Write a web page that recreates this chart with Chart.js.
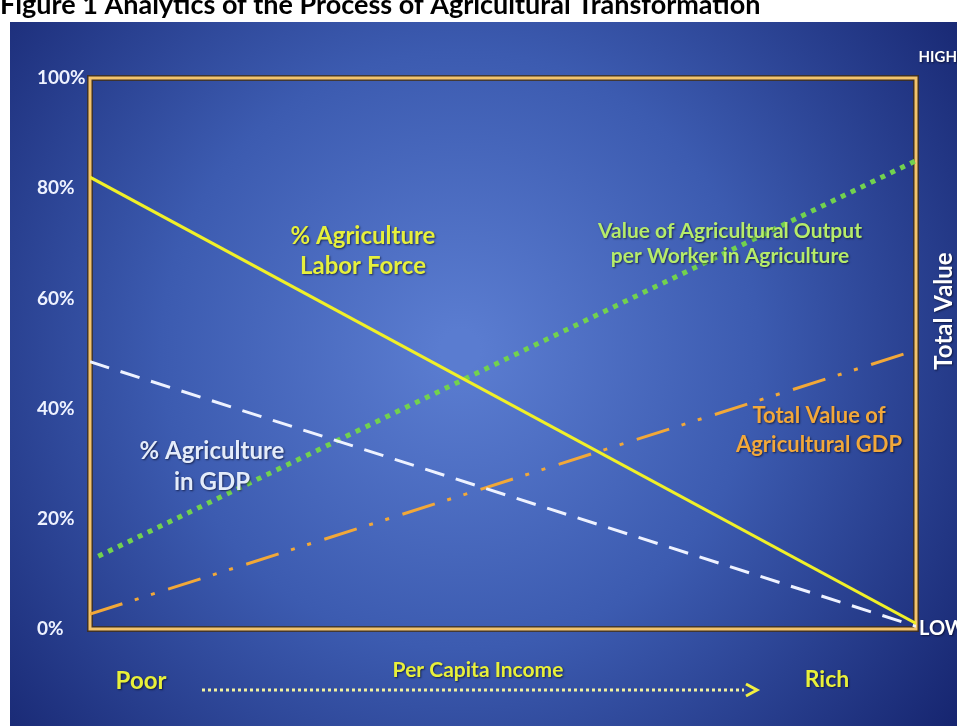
<!DOCTYPE html>
<html lang="en">
<head>
  <meta charset="UTF-8">
  <title>Analytics of the Process of Agricultural Transformation</title>
  <script src="https://cdn.jsdelivr.net/npm/chart.js"></script>
  <style>
    html, body { margin: 0; padding: 0; background: #ffffff; }
    #wrap { width: 957px; height: 726px; position: relative; }
  </style>
</head>
<body>
  <div id="wrap"><canvas id="agChart" width="957" height="726"></canvas></div>

  <script>
    // income axis runs from poor (0) to rich (100)
    const incomeEnds = [0, 100];
    const greenIncome = [1, 100];
    const laborShare = [82, 1];          // % agriculture labor force
    const gdpShare = [48.5, 0.5];        // % agriculture in GDP
    const outputPerWorker = [13.2, 85];  // value of output per worker
    const totalAgGdp = [2.7, 50.6];      // total value of agricultural GDP
    const yTicks = [0, 20, 40, 60, 80, 100];

    const FONT = 'Lato, "Open Sans", sans-serif';

    function pts(xs, ys) {
      return xs.map((x, i) => ({ x: x, y: ys[i] }));
    }

    // background panel + frame + annotations
    const decor = {
      id: 'decor',
      beforeDraw(chart) {
        const ctx = chart.ctx;
        ctx.save();
        ctx.fillStyle = '#ffffff';
        ctx.fillRect(0, 0, chart.width, chart.height);
        const g = ctx.createRadialGradient(460, 350, 20, 460, 350, 640);
        g.addColorStop(0, '#5a7cd0');
        g.addColorStop(0.45, '#3c5bb0');
        g.addColorStop(1, '#14226c');
        ctx.fillStyle = g;
        ctx.fillRect(10, 22, chart.width - 10, chart.height - 22);

        // title, partly cut by the top edge
        ctx.fillStyle = '#000000';
        ctx.font = 'bold 27px ' + FONT;
        ctx.textBaseline = 'alphabetic';
        ctx.fillText('Figure 1 Analytics of the Process of Agricultural Transformation', 0, 14);
        ctx.restore();
      },
      beforeDatasetsDraw(chart) {
        const a = chart.chartArea;
        const ctx = chart.ctx;
        ctx.save();
        ctx.lineWidth = 6;
        ctx.strokeStyle = 'rgba(70,45,10,0.75)';
        ctx.strokeRect(a.left, a.top, a.right - a.left, a.bottom - a.top);
        ctx.lineWidth = 3;
        ctx.strokeStyle = '#f3c46c';
        ctx.strokeRect(a.left, a.top, a.right - a.left, a.bottom - a.top);
        ctx.restore();
      },
      afterDraw(chart) {
        const ctx = chart.ctx;
        ctx.save();
        ctx.textAlign = 'center';
        ctx.textBaseline = 'middle';
        ctx.shadowColor = 'rgba(0,0,20,0.6)';
        ctx.shadowOffsetX = 1;
        ctx.shadowOffsetY = 1;
        ctx.shadowBlur = 2;

        function lines(txt, x, y, gap, color, size) {
          ctx.fillStyle = color;
          ctx.font = 'bold ' + size + 'px ' + FONT;
          txt.forEach((t, i) => ctx.fillText(t, x, y + i * gap));
        }

        lines(['% Agriculture', 'Labor Force'], 363, 236, 30, '#e6f03c', 24);
        lines(['Value of Agricultural Output', 'per Worker in Agriculture'], 730, 231, 25, '#b6ec6a', 21);
        lines(['% Agriculture', 'in GDP'], 212, 451, 31, '#e4ecfa', 24);
        lines(['Total Value of', 'Agricultural GDP'], 819, 416, 29, '#f2a83a', 22);

        // right side labels
        ctx.textAlign = 'right';
        lines(['HIGH'], 957, 57, 0, '#ffffff', 15);
        ctx.textAlign = 'left';
        lines(['LOW'], 919, 629, 0, '#ffffff', 20);
        ctx.textAlign = 'center';
        ctx.save();
        ctx.translate(944, 311);
        ctx.rotate(-Math.PI / 2);
        lines(['Total Value'], 0, 0, 0, '#ffffff', 24);
        ctx.restore();

        // income direction
        lines(['Poor'], 141, 681, 0, '#e8f03a', 24);
        lines(['Per Capita Income'], 478, 670, 0, '#e8f03a', 21);
        lines(['Rich'], 827, 680, 0, '#e8f03a', 23);

        ctx.shadowColor = 'transparent';
        ctx.strokeStyle = '#f2f2a0';
        ctx.lineWidth = 3;
        ctx.setLineDash([3, 3]);
        ctx.beginPath();
        ctx.moveTo(202, 690);
        ctx.lineTo(744, 690);
        ctx.stroke();
        ctx.setLineDash([]);
        ctx.strokeStyle = '#f2f040';
        ctx.beginPath();
        ctx.moveTo(746, 684);
        ctx.lineTo(757, 690);
        ctx.lineTo(746, 696);
        ctx.stroke();
        ctx.restore();
      }
    };

    const ctx = document.getElementById('agChart').getContext('2d');
    new Chart(ctx, {
      type: 'line',
      data: {
        datasets: [
          {
            label: '% Agriculture Labor Force',
            data: pts(incomeEnds, laborShare),
            borderColor: '#f0f028',
            borderWidth: 3
          },
          {
            label: '% Agriculture in GDP',
            data: pts(incomeEnds, gdpShare),
            borderColor: '#eef2ff',
            borderWidth: 3,
            borderDash: [20, 12]
          },
          {
            label: 'Value of Agricultural Output per Worker',
            data: pts(greenIncome, outputPerWorker),
            borderColor: '#72d24e',
            borderWidth: 5,
            borderDash: [5, 6]
          },
          {
            label: 'Total Value of Agricultural GDP',
            data: pts(incomeEnds, totalAgGdp),
            borderColor: '#f2a838',
            borderWidth: 3,
            borderDash: [34, 13, 4, 13, 4, 14]
          }
        ]
      },
      options: {
        responsive: false,
        animation: false,
        events: [],
        layout: { padding: { left: 37, top: 78, right: 41, bottom: 97 } },
        elements: { point: { radius: 0 }, line: { tension: 0 } },
        plugins: { legend: { display: false }, tooltip: { enabled: false } },
        scales: {
          x: { type: 'linear', min: 0, max: 100, display: false },
          y: {
            min: 0,
            max: 100,
            afterFit(scale) { scale.width = 53; },
            afterBuildTicks(scale) { scale.ticks = yTicks.map(v => ({ value: v })); },
            grid: { display: false },
            border: { display: false },
            ticks: {
              crossAlign: 'far',
              color: '#eef2ff',
              font: { family: FONT, size: 19, weight: 'bold' },
              callback: v => v + '%'
            }
          }
        }
      },
      plugins: [decor]
    });
  </script>
</body>
</html>
